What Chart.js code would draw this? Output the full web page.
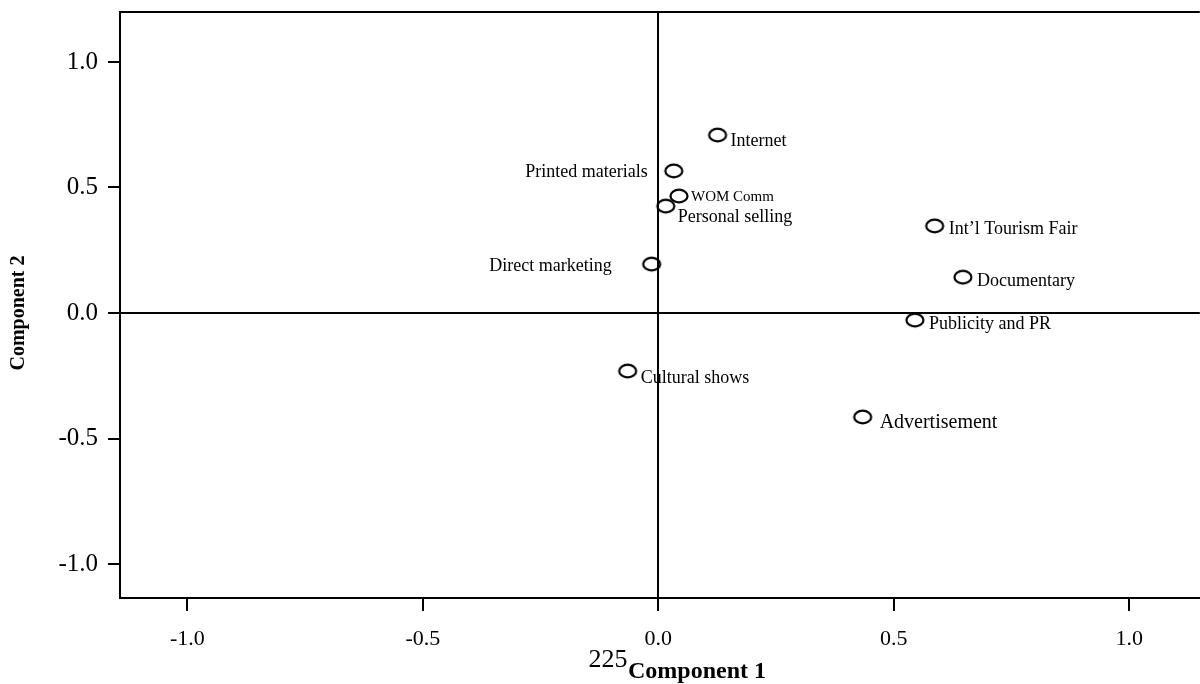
<!DOCTYPE html>
<html>
<head>
<meta charset="utf-8">
<script src="https://cdn.jsdelivr.net/npm/chart.js@4"></script>
<style>
  html, body { margin: 0; padding: 0; background: #fff; }
  #wrap { width: 1200px; height: 684px; position: relative; }
</style>
</head>
<body>
<div id="wrap"><canvas id="c" width="1200" height="684"></canvas></div>
<script>
// ---- data ----
const categories = ["Internet", "Printed materials", "WOM Comm", "Personal selling", "Direct marketing",
                    "Int\u2019l Tourism Fair", "Documentary", "Publicity and PR", "Cultural shows", "Advertisement"];
const component1 = [0.126, 0.033, 0.044, 0.016, -0.014, 0.587, 0.647, 0.545, -0.065, 0.434];
const component2 = [0.709, 0.566, 0.466, 0.426, 0.195, 0.347, 0.143, -0.028, -0.231, -0.414];
const xTickValues = [-1.0, -0.5, 0.0, 0.5, 1.0];
const yTickValues = [-1.0, -0.5, 0.0, 0.5, 1.0];
const xTitle = "Component 1";
const yTitle = "Component 2";
const pageNumber = "225";

// ---- label styling (offsets in px from the point, alignment, font size) ----
const labelStyle = [
  {dx: 13, dy: 6, align: 'left', size: 18},
  {dx: -26, dy: 1, align: 'right', size: 18},
  {dx: 12, dy: 1, align: 'left', size: 15},
  {dx: 12, dy: 11, align: 'left', size: 18},
  {dx: -40, dy: 2, align: 'right', size: 18},
  {dx: 14, dy: 3, align: 'left', size: 18},
  {dx: 14, dy: 4, align: 'left', size: 18},
  {dx: 14, dy: 4, align: 'left', size: 18},
  {dx: 13, dy: 7, align: 'left', size: 18},
  {dx: 17, dy: 6, align: 'left', size: 20}
];

const SERIF = "'Liberation Serif', 'Times New Roman', serif";

// ellipse marker
const marker = document.createElement('canvas');
marker.width = 22; marker.height = 18;
(function(){
  const g = marker.getContext('2d');
  g.strokeStyle = '#000'; g.lineWidth = 2.2;
  g.beginPath(); g.ellipse(11, 9, 8.5, 6.3, 0, 0, Math.PI * 2); g.stroke();
})();

const framePlugin = {
  id: 'frame',
  beforeDatasetsDraw(chart) {
    const {ctx, chartArea: a, scales: {x, y}} = chart;
    ctx.save();
    ctx.strokeStyle = '#000'; ctx.lineWidth = 2;
    ctx.beginPath();
    ctx.moveTo(a.left, a.top); ctx.lineTo(a.right, a.top);
    const x0 = Math.round(x.getPixelForValue(0));
    const y0 = Math.round(y.getPixelForValue(0));
    ctx.moveTo(x0, a.top); ctx.lineTo(x0, a.bottom);
    ctx.moveTo(a.left, y0); ctx.lineTo(a.right, y0);
    ctx.stroke();
    ctx.restore();
  },
  afterDraw(chart) {
    const {ctx, chartArea: a} = chart;
    const meta = chart.getDatasetMeta(0);
    ctx.save();
    ctx.fillStyle = '#000';
    ctx.textBaseline = 'middle';
    meta.data.forEach((pt, i) => {
      const s = labelStyle[i];
      ctx.font = s.size + 'px ' + SERIF;
      ctx.textAlign = s.align;
      ctx.fillText(categories[i], pt.x + s.dx, pt.y + s.dy);
    });
    // page number
    ctx.textAlign = 'center';
    ctx.font = '26px ' + SERIF;
    ctx.fillText(pageNumber, 608, 660);
    // x title
    ctx.font = 'bold 24px ' + SERIF;
    ctx.fillText(xTitle, 697, 672);
    // y title
    ctx.translate(19, (a.top + a.bottom) / 2 + 8);
    ctx.rotate(-Math.PI / 2);
    ctx.font = 'bold 20px ' + SERIF;
    ctx.fillText(yTitle, 0, 0);
    ctx.restore();
  }
};

new Chart(document.getElementById('c'), {
  type: 'scatter',
  data: {
    datasets: [{
      data: component1.map((v, i) => ({x: v, y: component2[i]})),
      pointStyle: marker,
      pointRadius: 0.2,
      pointHoverRadius: 0.2,
      pointBorderWidth: 0,
      pointHitRadius: 0,
      clip: false
    }]
  },
  options: {
    responsive: false,
    animation: false,
    devicePixelRatio: 1,
    layout: {padding: {top: 12, right: 0, left: 0, bottom: 0}},
    plugins: {legend: {display: false}, tooltip: {enabled: false}},
    scales: {
      x: {
        type: 'linear',
        min: -1.143, max: 1.150,
        afterBuildTicks: s => { s.ticks = xTickValues.map(v => ({value: v})); },
        afterFit: s => { s.height = 86; s.paddingLeft = 0; s.paddingRight = 0; },
        ticks: {
          callback: v => v.toFixed(1),
          color: '#000', font: {family: SERIF, size: 22},
          padding: 15, maxRotation: 0, autoSkip: false
        },
        grid: {drawOnChartArea: false, drawTicks: true, tickLength: 13, color: '#000', lineWidth: 2},
        border: {display: true, color: '#000', width: 2}
      },
      y: {
        type: 'linear',
        min: -1.135, max: 1.199,
        afterBuildTicks: s => { s.ticks = yTickValues.map(v => ({value: v})); },
        afterFit: s => { s.width = 120; s.paddingTop = 0; s.paddingBottom = 0; },
        ticks: {
          callback: v => v.toFixed(1),
          color: '#000', font: {family: SERIF, size: 25},
          padding: 10, autoSkip: false
        },
        grid: {drawOnChartArea: false, drawTicks: true, tickLength: 12, color: '#000', lineWidth: 2},
        border: {display: true, color: '#000', width: 2}
      }
    }
  },
  plugins: [framePlugin]
});
</script>
</body>
</html>
